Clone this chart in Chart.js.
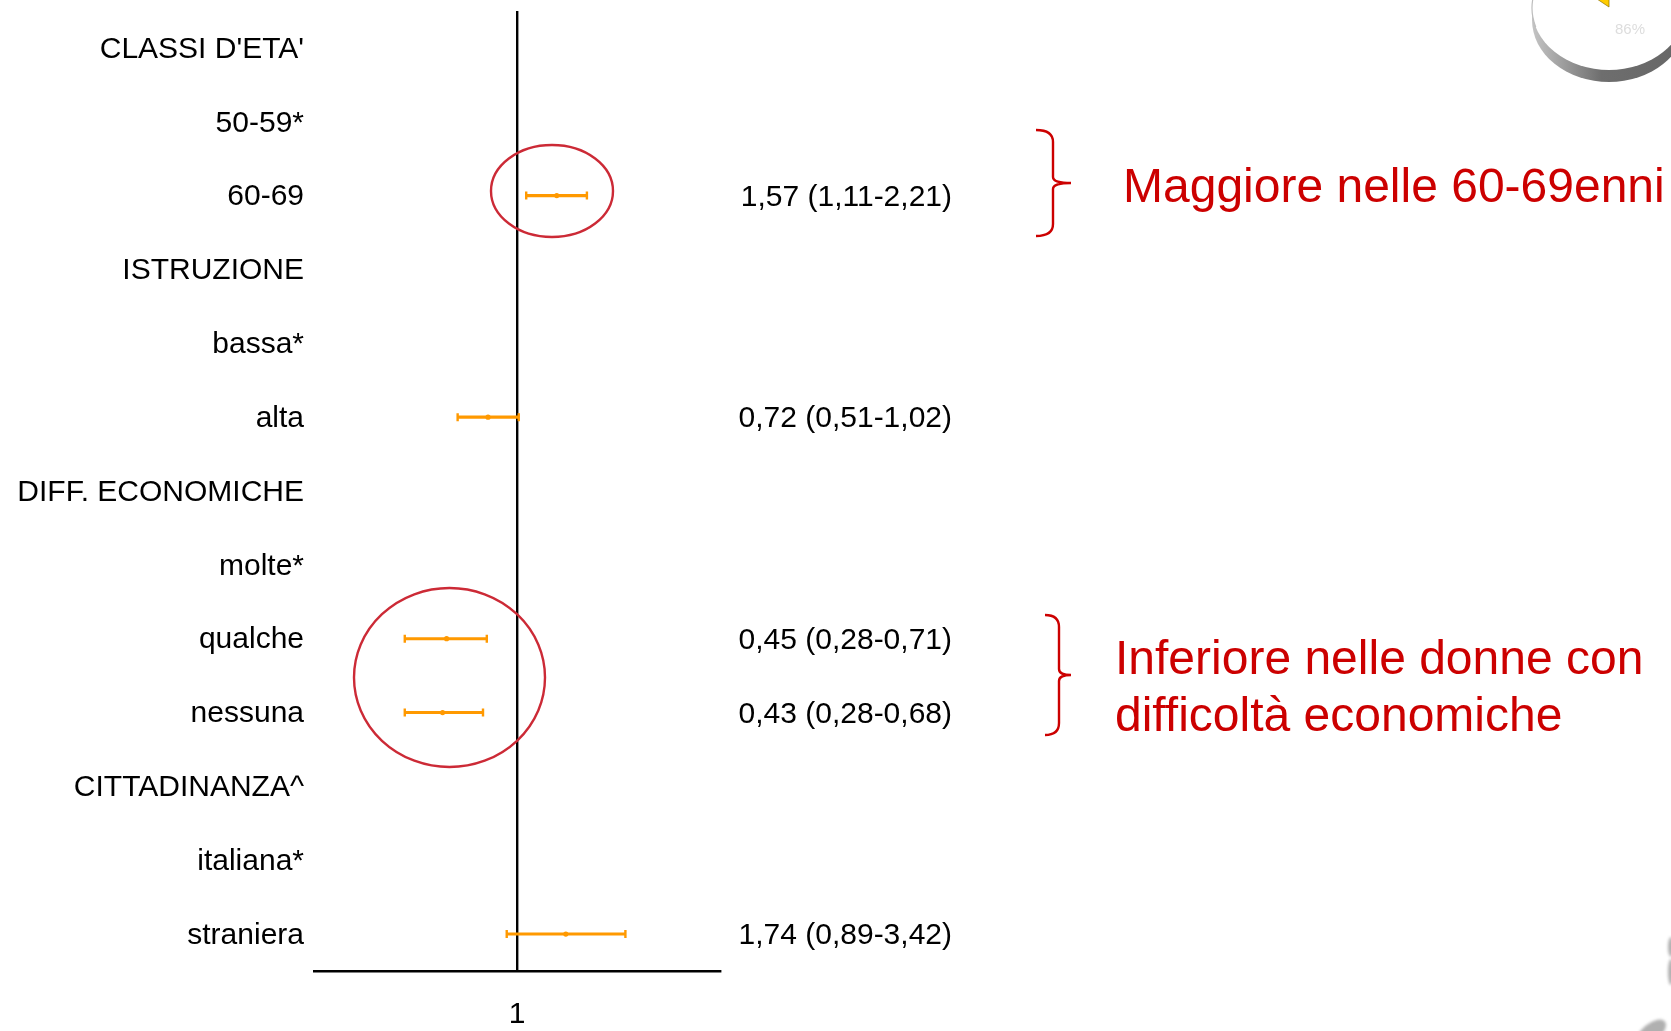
<!DOCTYPE html>
<html>
<head>
<meta charset="utf-8">
<title>Odds ratio</title>
<script src="https://cdn.jsdelivr.net/npm/chart.js@4"></script>
<style>
  html, body { margin: 0; padding: 0; background: #fff; overflow: hidden; }
  canvas { display: block; }
</style>
</head>
<body>
<canvas id="orChart" width="1671" height="1031"></canvas>
<script>
const categories = ["CLASSI D'ETA'", '50-59*', '60-69', 'ISTRUZIONE', 'bassa*', 'alta', 'DIFF. ECONOMICHE', 'molte*', 'qualche', 'nessuna', 'CITTADINANZA^', 'italiana*', 'straniera'];
const oddsRatios = [null, null, 1.57, null, null, 0.72, null, null, 0.45, 0.43, null, null, 1.74];
const lowerCI = [null, null, 1.11, null, null, 0.51, null, null, 0.28, 0.28, null, null, 0.89];
const upperCI = [null, null, 2.21, null, null, 1.02, null, null, 0.71, 0.68, null, null, 3.42];
const ciLabels = ['', '', '1,57 (1,11-2,21)', '', '', '0,72 (0,51-1,02)', '', '', '0,45 (0,28-0,71)', '0,43 (0,28-0,68)', '', '', '1,74 (0,89-3,42)'];
const xTicks = [1];

const ORANGE = '#ff9900';
const RED = '#cc0000';
const FONT = '"Liberation Sans", Arial, sans-serif';

// CI labels, notes and the bits of the slide around the chart
const slidePlugin = {
  id: 'slide',
  afterDraw(chart) {
    const ctx = chart.ctx;
    const y = chart.scales.y;

    ctx.save();
    ctx.fillStyle = '#000';
    ctx.font = '30px ' + FONT;
    ctx.textAlign = 'right';
    ctx.textBaseline = 'middle';
    ciLabels.forEach((label, i) => {
      if (label) ctx.fillText(label, 952, y.getPixelForValue(i) + 2);
    });

    // circles
    ctx.strokeStyle = '#cc2a36';
    ctx.lineWidth = 2.4;
    ctx.beginPath();
    ctx.ellipse(552, 191, 61, 46, 0, 0, Math.PI * 2);
    ctx.stroke();
    ctx.beginPath();
    ctx.ellipse(449.5, 677.5, 95.5, 89.5, 0, 0, Math.PI * 2);
    ctx.stroke();

    // braces
    ctx.strokeStyle = RED;
    drawBrace(ctx, 1036, 1053, 1071, 130, 183, 236);
    drawBrace(ctx, 1045, 1059, 1071, 615, 675, 735);

    // notes
    ctx.fillStyle = RED;
    ctx.font = '48px ' + FONT;
    ctx.textAlign = 'left';
    ctx.textBaseline = 'alphabetic';
    ctx.fillText('Maggiore nelle 60-69enni', 1123, 202);
    ctx.fillText('Inferiore nelle donne con', 1115, 674);
    ctx.fillText('difficoltà economiche', 1115, 731);

    // pie cut off in the corner
    const side = ctx.createLinearGradient(1532, 0, 1686, 0);
    side.addColorStop(0, '#c4c4c4');
    side.addColorStop(0.45, '#6e6e6e');
    side.addColorStop(1, '#666');
    ctx.fillStyle = side;
    ctx.beginPath();
    ctx.ellipse(1609, 20, 77, 62, 0, 0, Math.PI * 2);
    ctx.fill();
    ctx.fillStyle = '#fff';
    ctx.beginPath();
    ctx.ellipse(1609, 8, 77, 62, 0, 0, Math.PI * 2);
    ctx.fill();
    ctx.strokeStyle = '#bdbdbd';
    ctx.lineWidth = 1.2;
    ctx.beginPath();
    ctx.ellipse(1609, 8, 77, 62, 0, Math.PI * 0.9, Math.PI * 1.2);
    ctx.stroke();
    ctx.fillStyle = '#ffcc00';
    ctx.strokeStyle = '#8a7000';
    ctx.lineWidth = 0.7;
    ctx.beginPath();
    ctx.moveTo(1597, -1);
    ctx.lineTo(1609, 7);
    ctx.lineTo(1609, -1);
    ctx.closePath();
    ctx.fill();
    ctx.stroke();
    ctx.fillStyle = '#dddddd';
    ctx.font = '15px ' + FONT;
    ctx.textAlign = 'left';
    ctx.textBaseline = 'middle';
    ctx.fillText('86%', 1615, 30);

    // grey smudges at the slide edge
    ctx.fillStyle = '#b0b0b0';
    ctx.filter = 'blur(1.5px)';
    ctx.beginPath();
    ctx.ellipse(1671, 947, 3, 10, 0, 0, Math.PI * 2);
    ctx.ellipse(1671, 972, 3, 13, 0, 0, Math.PI * 2);
    ctx.fill();
    ctx.beginPath();
    ctx.ellipse(1651, 1033, 18, 9, -0.7, 0, Math.PI * 2);
    ctx.fill();
    ctx.restore();
  }
};

function drawBrace(ctx, xOut, xSpine, xTip, yTop, yMid, yBot) {
  const r = 6;
  ctx.lineWidth = 2.4;
  ctx.beginPath();
  ctx.moveTo(xOut, yTop);
  ctx.quadraticCurveTo(xSpine, yTop, xSpine, yTop + 2 * r);
  ctx.lineTo(xSpine, yMid - r);
  ctx.quadraticCurveTo(xSpine, yMid, xTip, yMid);
  ctx.quadraticCurveTo(xSpine, yMid, xSpine, yMid + r);
  ctx.lineTo(xSpine, yBot - 2 * r);
  ctx.quadraticCurveTo(xSpine, yBot, xOut, yBot);
  ctx.stroke();
}

new Chart(document.getElementById('orChart').getContext('2d'), {
  type: 'bar',
  data: {
    labels: categories,
    datasets: [
      {
        label: 'IC 95%',
        data: lowerCI.map((low, i) => (low === null ? null : [low, upperCI[i]])),
        backgroundColor: ORANGE,
        barThickness: 2.4,
        order: 3
      },
      {
        type: 'line',
        label: 'OR',
        data: oddsRatios,
        showLine: false,
        pointStyle: 'circle',
        pointRadius: 2.6,
        backgroundColor: ORANGE,
        borderColor: ORANGE,
        borderWidth: 0,
        order: 2
      },
      {
        type: 'line',
        label: 'inf',
        data: lowerCI,
        showLine: false,
        pointStyle: 'line',
        rotation: 90,
        pointRadius: 4,
        borderColor: ORANGE,
        pointBorderWidth: 2.4,
        order: 1
      },
      {
        type: 'line',
        label: 'sup',
        data: upperCI,
        showLine: false,
        pointStyle: 'line',
        rotation: 90,
        pointRadius: 4,
        borderColor: ORANGE,
        pointBorderWidth: 2.4,
        order: 1
      }
    ]
  },
  options: {
    indexAxis: 'y',
    responsive: false,
    animation: false,
    layout: { padding: { top: 11, right: 951, bottom: 0, left: 0 } },
    plugins: { legend: { display: false }, tooltip: { enabled: false } },
    scales: {
      x: {
        type: 'logarithmic',
        min: 0.1,
        max: 10,
        afterBuildTicks: scale => { scale.ticks = xTicks.map(value => ({ value })); },
        afterFit: scale => { scale.height = 60; scale.paddingLeft = 0; scale.paddingRight = 0; },
        grid: { color: '#000', lineWidth: 2.4, drawTicks: false },
        border: { color: '#000', width: 2.4 },
        ticks: {
          color: '#000',
          font: { family: FONT, size: 30 },
          padding: 26,
          maxRotation: 0,
          autoSkip: false,
          callback: value => String(value)
        }
      },
      y: {
        afterFit: scale => { scale.width = 314; scale.paddingTop = 0; scale.paddingBottom = 0; },
        grid: { display: false, drawTicks: false },
        border: { display: false },
        ticks: {
          color: '#000',
          font: { family: FONT, size: 30 },
          padding: 10,
          labelOffset: 1.5,
          autoSkip: false
        }
      }
    }
  },
  plugins: [slidePlugin]
});
</script>
</body>
</html>
